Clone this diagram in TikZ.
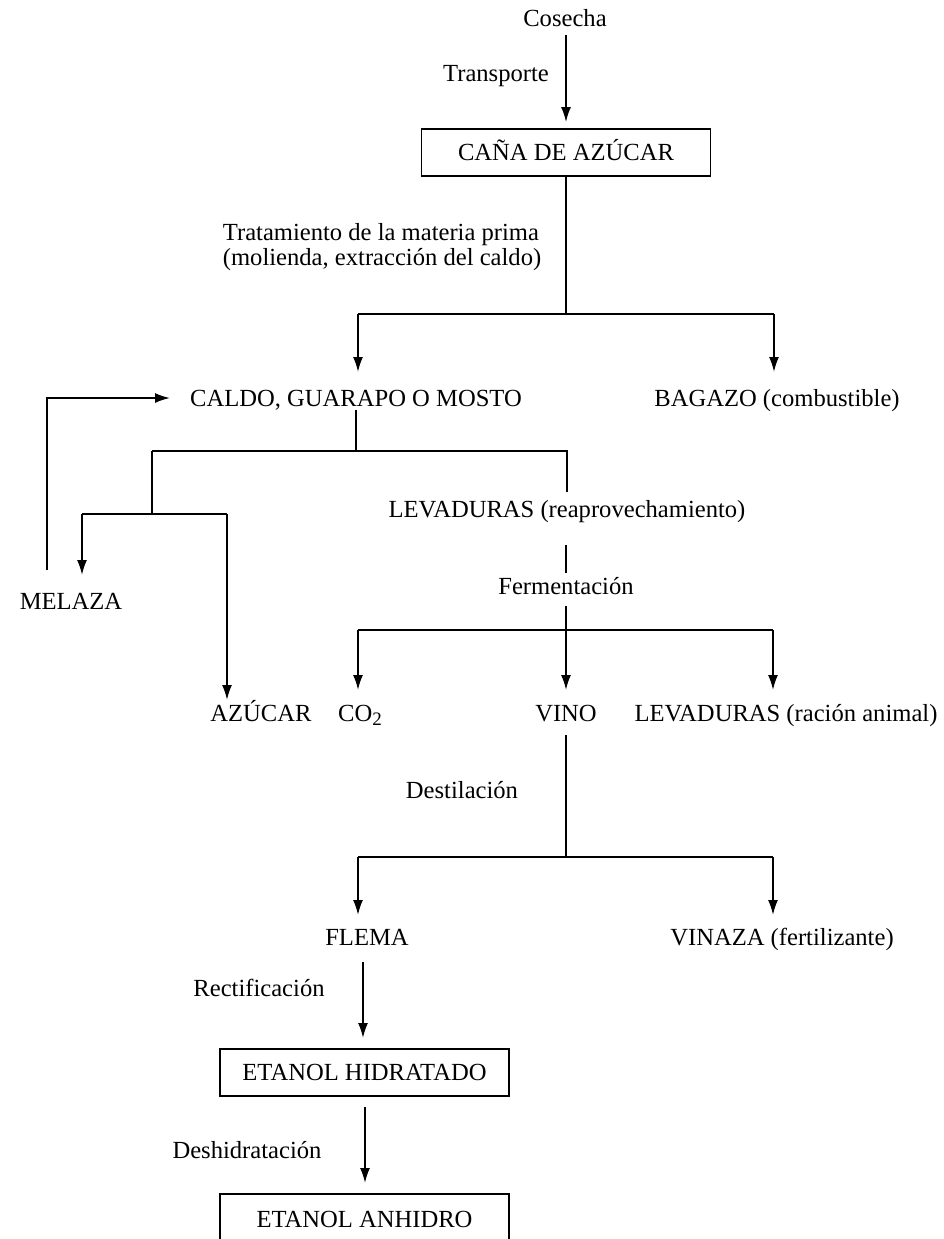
\documentclass[tikz,border=0pt]{standalone}
\usepackage{fontspec}
\setmainfont{Liberation Serif}
\usetikzlibrary{arrows.meta}
\begin{document}
\begin{tikzpicture}[x=0.5pt,y=-0.5pt,
  line width=0.9pt,
  lbl/.style={inner sep=0pt, text height=8.1pt, text depth=0pt,
              font=\fontsize{12.3}{12}\selectfont},
  boxed/.style={lbl, draw, line width=0.9pt, minimum width=144.5pt, minimum height=23.5pt},
  flow/.style={-{Latex[length=7.5pt,width=5pt]}},
]
\useasboundingbox (0,0) rectangle (944,1239);
\clip (0,0) rectangle (944,1239);

% ---------- labels and boxes ----------
\node[lbl] (cosecha)    at (565,18)  {Cosecha};
\node[lbl] (transporte) at (496,73)  {Transporte};
\node[boxed] (cana)     at (566,152.5) {CAÑA DE AZÚCAR};
\node[inner sep=0pt, anchor=north west, align=left,
      font=\fontsize{12.3}{12.3}\selectfont] (tratamiento) at (222,223)
      {Tratamiento de la materia prima\\(molienda, extracción del caldo)};
\node[lbl] (caldo)   at (356,398) {CALDO, GUARAPO O MOSTO};
\node[lbl] (bagazo)  at (777,398) {BAGAZO (combustible)};
\node[lbl] (levreap) at (567,509) {LEVADURAS (reaprovechamiento)};
\node[lbl] (melaza)  at (71,601)  {MELAZA};
\node[lbl] (ferment) at (566,586) {Fermentación};
\node[lbl] (azucar)  at (261,713) {AZÚCAR};
\node[lbl] (co2)     at (360,713) {CO\raisebox{-0.4ex}{\fontsize{9.5}{9.5}\selectfont 2}};
\node[lbl] (vino)    at (566,713) {VINO};
\node[lbl] (levanim) at (786,713) {LEVADURAS (ración animal)};
\node[lbl] (destil)  at (462,790) {Destilación};
\node[lbl] (flema)   at (367,937) {FLEMA};
\node[lbl] (vinaza)  at (782,937) {VINAZA (fertilizante)};
\node[lbl] (rectif)  at (259,988) {Rectificación};
\node[boxed] (hidratado) at (364.5,1072.5) {ETANOL HIDRATADO};
\node[lbl] (deshid)  at (247,1150) {Deshidratación};
\node[boxed, minimum height=25pt] (anhidro) at (364.5,1219) {ETANOL ANHIDRO};

% ---------- junction points ----------
\coordinate (s0)  at (566,35);
\coordinate (b1)  at (566,314);
\coordinate (b1l) at (358,314);
\coordinate (b1r) at (774,314);
\coordinate (t1l) at (358,372);
\coordinate (t1r) at (774,372);

\coordinate (m0)  at (47,570);
\coordinate (m1)  at (47,398);
\coordinate (m2)  at (170,398);

\coordinate (c0)  at (356,410);
\coordinate (b2)  at (356,451);
\coordinate (b2l) at (152,451);
\coordinate (b2r) at (567,451);
\coordinate (l0)  at (567,492);
\coordinate (b3)  at (152,514);
\coordinate (b3l) at (82,514);
\coordinate (b3r) at (227,514);
\coordinate (t3l) at (82,575);
\coordinate (t3r) at (227,700);

\coordinate (f0)  at (566,545);
\coordinate (f1)  at (566,573);
\coordinate (f2)  at (566,606);
\coordinate (b4)  at (566,630);
\coordinate (b4l) at (358,630);
\coordinate (b4r) at (773,630);
\coordinate (t4l) at (358,690);
\coordinate (t4m) at (566,690);
\coordinate (t4r) at (773,690);

\coordinate (v0)  at (566,735);
\coordinate (b5)  at (566,857);
\coordinate (b5l) at (358,857);
\coordinate (b5r) at (773,857);
\coordinate (t5l) at (358,915);
\coordinate (t5r) at (773,915);

\coordinate (r0)  at (363,962);
\coordinate (r1)  at (363,1038);
\coordinate (d0)  at (365,1107);
\coordinate (d1)  at (365,1183);

% ---------- connectors ----------
\draw[flow] (s0) -- ([yshift=3pt]cana.north);
\draw (cana.south) -- (b1);
\draw (b1l) -- (b1r);
\draw[flow] (b1l) -- (t1l);
\draw[flow] (b1r) -- (t1r);

\draw[flow] (m0) -- (m1) -- (m2);

\draw (c0) -- (b2);
\draw (b2l) -- (b2r) -- (l0);
\draw (b2l) -- (b3);
\draw (b3l) -- (b3r);
\draw[flow] (b3l) -- (t3l);
\draw[flow] (b3r) -- (t3r);

\draw (f0) -- (f1);
\draw (f2) -- (b4);
\draw (b4l) -- (b4r);
\draw[flow] (b4l) -- (t4l);
\draw[flow] (b4)  -- (t4m);
\draw[flow] (b4r) -- (t4r);

\draw (v0) -- (b5);
\draw (b5l) -- (b5r);
\draw[flow] (b5l) -- (t5l);
\draw[flow] (b5r) -- (t5r);

\draw[flow] (r0) -- (r1);
\draw[flow] (d0) -- (d1);
\end{tikzpicture}
\end{document}
